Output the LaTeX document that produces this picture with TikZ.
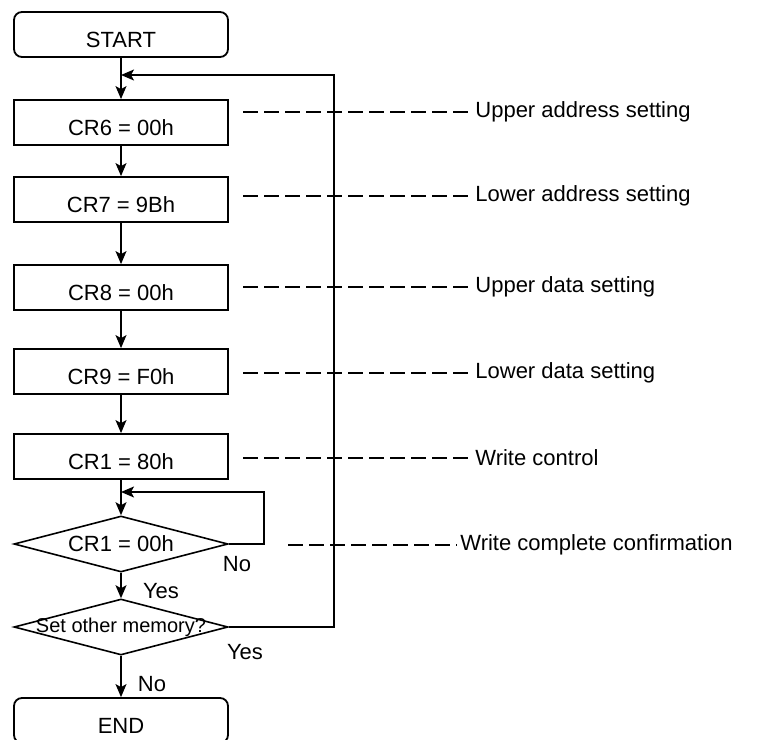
\documentclass[tikz,border=0pt]{standalone}
\usepackage{fontspec}
\setmainfont{Liberation Sans}
\usetikzlibrary{shapes.geometric,arrows.meta}

\begin{document}
\begin{tikzpicture}[x=0.5pt, y=-0.5pt,
	every node/.style={font=\fontsize{11pt}{13pt}\selectfont},
	procbox/.style={draw, line width=0.9pt, minimum width=107pt, minimum height=22.5pt, text height=1.25em, text depth=0pt, inner sep=0pt},
	termbox/.style={procbox, rounded corners=4pt},
	decbox/.style={draw, diamond, aspect=3.8, line width=0.8pt, minimum width=107pt, minimum height=28pt, inner sep=0pt},
	flow/.style={line width=0.75pt, -{Stealth[length=6.5pt, width=5.5pt, inset=1.5pt]}},
	guide/.style={line width=1pt, dash pattern=on 7.5pt off 3pt},
	note/.style={anchor=west, inner sep=1.5pt},
]
\useasboundingbox (0,0) rectangle (760,739);

\node[termbox] (start) at (121,34.5) {START};

\foreach \nm/\yy/\txt in {cr6/122.5/CR6 = 00h, cr7/199.5/CR7 = 9Bh, cr8/287.5/CR8 = 00h, cr9/371.5/CR9 = F0h, cr1set/456.5/CR1 = 80h}
	{
		\node[procbox] (\nm) at (121,\yy) {\txt};
	}

\node[decbox] (cr1chk) at (121,544) {CR1 = 00h};
\node[decbox, label={[font=\fontsize{10pt}{12pt}\selectfont]center:Set other memory?}] (more) at (121,627) {};
\node[termbox] (finish) at (121,720.5) {END};

\foreach \a/\b in {start/cr6, cr6/cr7, cr7/cr8, cr8/cr9, cr9/cr1set, cr1set/cr1chk, cr1chk/more, more/finish}
	{
		\draw[flow] (\a) -- (\b);
	}

% loops back
\coordinate (retry) at (264,492);
\draw[flow] (cr1chk.east) -| (retry) -- (cr1set.south |- retry);
\coordinate (again) at (334,75);
\draw[flow] (more.east) -| (again) -- (start.south |- again);

\node (yes1) at (161,591) {Yes};
\node (no1) at (237,564) {No};
\node (yes2) at (245,652) {Yes};
\node (no2) at (152,684) {No};

% notes on the right
\foreach \nm/\xs/\xt/\yy/\txt in {upaddr/243/472/112/Upper address setting, loaddr/243/472/196/Lower address setting, updata/243/472/287/Upper data setting, lodata/243/472/373/Lower data setting, wrctl/243/472/458/Write control, wrdone/288/457/545/Write complete confirmation}
	{
		\node[note] (\nm) at (\xt,\yy) {\txt};
		\coordinate (\nm-from) at (\xs,\yy);
		\draw[guide] (\nm-from) -- (\nm);
	}

\end{tikzpicture}
\end{document}
